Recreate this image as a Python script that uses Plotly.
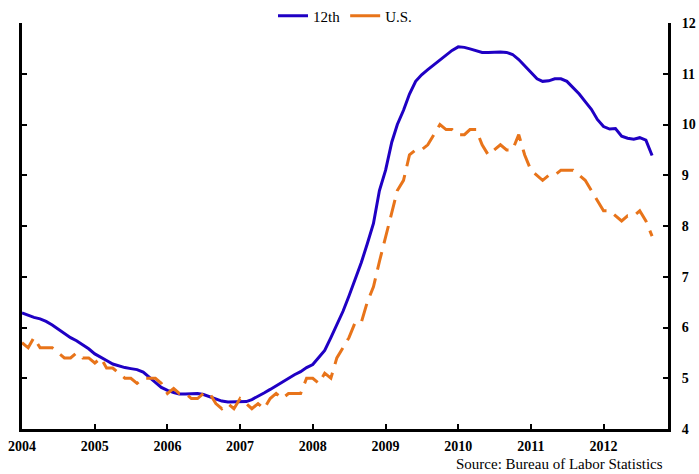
import pandas as pd
import plotly.graph_objects as go

# monthly unemployment rate, Jan 2004 - Sep 2012
dates = pd.date_range("2004-01-01", "2012-09-01", freq="MS")

twelfth = [
    6.29, 6.24, 6.20, 6.17, 6.12, 6.05, 5.97, 5.88, 5.80, 5.74, 5.66, 5.58,
    5.48, 5.42, 5.35, 5.28, 5.24, 5.21, 5.19, 5.17, 5.12, 5.03, 4.92, 4.82,
    4.76, 4.72, 4.69, 4.69, 4.70, 4.70, 4.68, 4.64, 4.60, 4.55, 4.53, 4.53,
    4.53, 4.54, 4.58, 4.64, 4.71, 4.78, 4.85, 4.93, 5.01, 5.07, 5.13, 5.21,
    5.27, 5.42, 5.55, 5.80, 6.05, 6.32, 6.62, 6.95, 7.28, 7.65, 8.05, 8.70,
    9.10, 9.65, 10.00, 10.28, 10.60, 10.85, 10.98, 11.08, 11.18, 11.28, 11.38, 11.46,
    11.53, 11.52, 11.49, 11.45, 11.42, 11.42, 11.43, 11.43, 11.42, 11.38, 11.28, 11.15,
    11.03, 10.90, 10.85, 10.86, 10.90, 10.90, 10.85, 10.72, 10.60, 10.45, 10.30, 10.10,
    9.96, 9.91, 9.92, 9.77, 9.73, 9.71, 9.74, 9.69, 9.39,
]

us = [
    5.7, 5.6, 5.8, 5.6, 5.6, 5.6, 5.5, 5.4, 5.4, 5.5, 5.4, 5.4,
    5.3, 5.4, 5.2, 5.2, 5.1, 5.0, 5.0, 4.9, 5.0, 5.0, 5.0, 4.9,
    4.7, 4.8, 4.7, 4.7, 4.6, 4.6, 4.7, 4.7, 4.5, 4.4, 4.5, 4.4,
    4.6, 4.5, 4.4, 4.5, 4.4, 4.6, 4.7, 4.6, 4.7, 4.7, 4.7, 5.0,
    5.0, 4.9, 5.1, 5.0, 5.4, 5.6, 5.8, 6.1, 6.1, 6.5, 6.8, 7.3,
    7.8, 8.3, 8.7, 8.9, 9.4, 9.5, 9.5, 9.6, 9.8, 10.0, 9.9, 9.9,
    9.8, 9.8, 9.9, 9.9, 9.6, 9.4, 9.5, 9.6, 9.5, 9.5, 9.8, 9.4,
    9.1, 9.0, 8.9, 9.0, 9.0, 9.1, 9.1, 9.1, 9.0, 8.9, 8.7, 8.5,
    8.3, 8.3, 8.2, 8.1, 8.2, 8.2, 8.3, 8.1, 7.8,
]

year_ticks = pd.date_range("2004-01-01", "2012-01-01", freq="YS")
year_labels = [str(d.year) for d in year_ticks]

blue = "#1f00c4"
orange = "#e8741a"

fig = go.Figure()
fig.add_trace(go.Scatter(x=dates, y=twelfth, name="12th", mode="lines",
                         line=dict(color=blue, width=3)))
fig.add_trace(go.Scatter(x=dates, y=us, name="U.S.", mode="lines", showlegend=False,
                         line=dict(color=orange, width=3, dash="18px,9px")))
# legend key for U.S. is drawn solid in the original
fig.add_trace(go.Scatter(x=[None], y=[None], name="U.S.", mode="lines",
                         line=dict(color=orange, width=3)))

fig.update_layout(
    width=699, height=474,
    margin=dict(l=22, r=31, t=23, b=45, autoexpand=False),
    plot_bgcolor="white", paper_bgcolor="white",
    font=dict(family="Liberation Serif", color="black"),
    showlegend=True,
    legend=dict(orientation="h", x=0.5, xanchor="center", y=1.017, yanchor="middle",
                font=dict(size=15), itemwidth=30, bgcolor="rgba(0,0,0,0)"),
)
fig.update_xaxes(
    range=["2004-01-01", "2012-11-20"],
    tickvals=year_ticks, ticktext=year_labels,
    showline=True, linecolor="black", linewidth=3,
    ticks="inside", ticklen=5, tickwidth=2, tickcolor="black",
    tickfont=dict(size=14, family="Liberation Serif", weight="bold"),
    ticklabelstandoff=2,
    showgrid=False, zeroline=False,
)
fig.update_yaxes(
    range=[4, 12], dtick=1, side="right",
    showline=True, linecolor="black", linewidth=3, mirror="ticks",
    ticks="inside", ticklen=5, tickwidth=2, tickcolor="black",
    tickfont=dict(size=14, family="Liberation Serif", weight="bold"),
    ticklabelstandoff=8,
    showgrid=False, zeroline=False,
)
fig.add_annotation(text="Source: Bureau of Labor Statistics", xref="paper", yref="paper",
                   x=0.995, y=-0.085, xanchor="right", yanchor="middle", showarrow=False,
                   font=dict(size=15, family="Liberation Serif"))

fig.write_html("out.html", config={"displayModeBar": False},
               post_script="document.body.style.margin='0';")
